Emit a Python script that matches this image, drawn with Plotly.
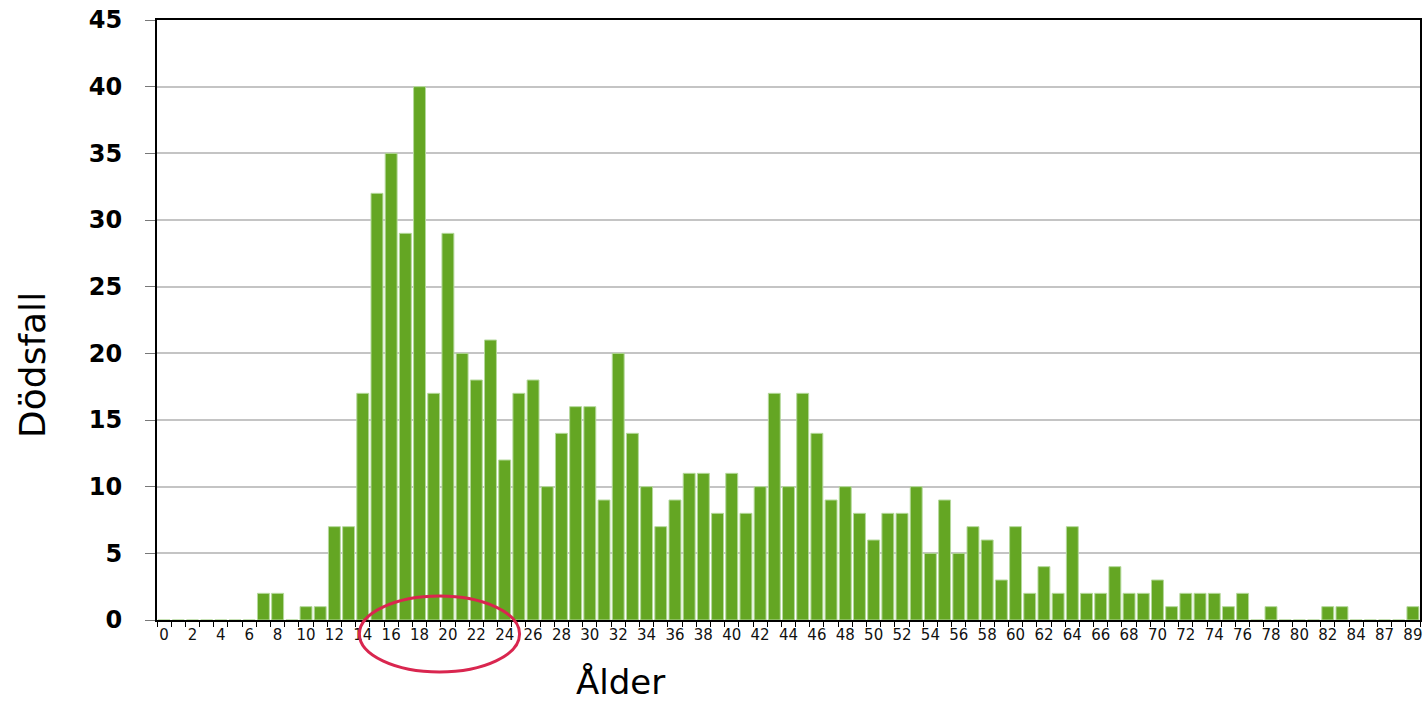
import plotly.graph_objects as go

ages = [str(a) for a in list(range(0, 85)) + [86, 87, 88, 89]]
deaths = [0, 0, 0, 0, 0, 0, 0, 2, 2, 0,
          1, 1, 7, 7, 17, 32, 35, 29, 40, 17,
          29, 20, 18, 21, 12, 17, 18, 10, 14, 16,
          16, 9, 20, 14, 10, 7, 9, 11, 11, 8,
          11, 8, 10, 17, 10, 17, 14, 9, 10, 8,
          6, 8, 8, 10, 5, 9, 5, 7, 6, 3,
          7, 2, 4, 2, 7, 2, 2, 4, 2, 2,
          3, 1, 2, 2, 2, 1, 2, 0, 1, 0,
          0, 0, 1, 1, 0, 0, 0, 0, 1]
y_ticks = [0, 5, 10, 15, 20, 25, 30, 35, 40, 45]

FONT = "DejaVu Sans, Liberation Sans, Arial, sans-serif"

fig = go.Figure()
fig.add_trace(go.Bar(
    x=ages, y=deaths,
    marker=dict(color="#64a623", line=dict(color="#b5d99c", width=1)),
))

fig.update_layout(
    width=1423, height=701,
    margin=dict(l=157, r=3, t=20, b=81, autoexpand=False),
    paper_bgcolor="white", plot_bgcolor="white",
    bargap=0.16,
    showlegend=False,
    font=dict(family=FONT, color="black"),
)
fig.update_xaxes(
    type="category",
    tickmode="linear", tick0=0, dtick=1, ticklabelstep=2,
    tickson="boundaries", tickangle=0, automargin=False,
    ticklabeloverflow="allow",
    ticks="outside", ticklen=5, tickcolor="black", tickwidth=1,
    tickfont=dict(size=15, color="#111111", family=FONT),
    showline=True, linecolor="black", linewidth=2, mirror=True,
    showgrid=False,
    range=[-0.5, len(ages) - 0.5],
)
fig.update_yaxes(
    range=[0, 45], automargin=False,
    ticklabeloverflow="allow",
    tickvals=y_ticks,
    ticks="outside", ticklen=10, tickcolor="#777777",
    ticklabelstandoff=18,
    tickfont=dict(size=24, color="black", weight="bold", family=FONT),
    showline=True, linecolor="black", linewidth=2, mirror=True,
    showgrid=True, gridcolor="#c4c4c4", gridwidth=2,
    zeroline=False,
)
fig.add_annotation(text="Ålder", xref="paper", yref="paper",
                   x=0.367, y=-0.103, xanchor="center", yanchor="middle",
                   showarrow=False, font=dict(size=34, color="black", family=FONT))
fig.add_annotation(text="Dödsfall", xref="paper", yref="paper",
                   x=-0.099, y=0.425, xanchor="center", yanchor="middle",
                   textangle=-90, showarrow=False,
                   font=dict(size=36, color="black", family=FONT))
fig.add_shape(type="circle", xref="x", yref="paper",
              x0=13.76, x1=25.05, y0=0.04, y1=-0.0867,
              line=dict(color="#d9264f", width=3))

fig.write_html("out.html",
               config={"displayModeBar": False},
               post_script="document.body.style.margin='0px';document.body.style.overflow='hidden';")
